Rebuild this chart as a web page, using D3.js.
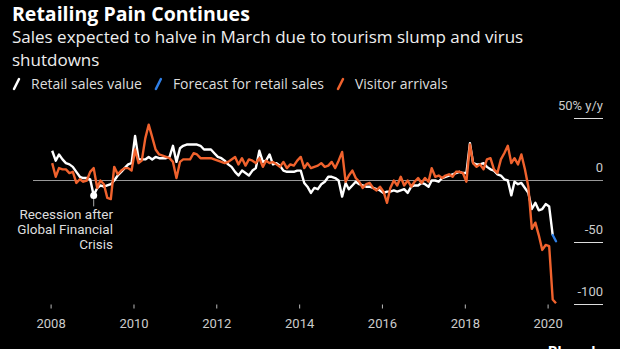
<!DOCTYPE html>
<html>
<head>
<meta charset="utf-8">
<script src="https://cdn.jsdelivr.net/npm/d3@7"></script>
<style>
body { margin: 0; background: #000; }
svg { display: block; font-family: Roboto, "Open Sans", sans-serif; }
.head { font-family: "Open Sans", Roboto, sans-serif; }
</style>
</head>
<body>
<div id="chart"></div>
<script>
// monthly series, first value is Jan 2008
var startMonth = new Date(2008, 0, 15);

// retail sales value, % y/y (Jan 2008 - Feb 2020)
var retailSales = [
    24, 16, 21, 17, 14, 13, 11, 7, 3, 2, 2, 1,
    -12, -6, -4, -5, -4, -3, 0, 4, 7, 10, 13, 14,
    36, 17, 17, 17, 19, 17, 19, 18, 18, 18, 19, 28,
    15, 26, 28, 29, 29, 29, 29, 28, 25, 25, 25, 22,
    19, 18, 16, 13, 11, 7, 4, 8, 6, 4, 8, 10,
    24, 15, 16, 21, 13, 14, 12, 8, 7, 7, 7, 8,
    8, -2, -5, -10, -6, -7, -3, -1, 3, 3, 2, 0,
    -13, -2, -7, -4, -1, -3, -4, -5, -5, -6, -7, -8,
    -10, -9, -9, -8, -9, -8, -7, -10, -5, -4, -4, -2,
    -3, -5, 0, 0, -1, 2, 3, 4, 5, 6, 7, 6,
    6, 30, 14, 13, 13, 14, 11, 9, 8, 5, 4, 1,
    0, -12, -1, -3, -2, -6, -10, -23, -18, -24, -23, -19,
    -21, -44
];

// forecast for retail sales: Feb 2020 (last actual) to Mar 2020
var forecastRetail = [-44, -49];

// visitor arrivals, % y/y (Jan 2008 - Mar 2020)
var visitorArrivals = [
    14, 3, 10, 9, 9, 6, 7, -2, 1, -1, 0, 7,
    10, -6, 0, -3, -14, -15, 11, 5, 8, 10, 10, 8,
    25, 14, 16, 34, 45, 35, 25, 21, 20, 19, 18, 15,
    2, 15, 17, 17, 17, 22, 21, 18, 18, 18, 18, 17,
    16, 15, 14, 15, 17, 19, 13, 18, 12, 17, 16, 14,
    18, 11, 16, 14, 15, 13, 11, 15, 10, 13, 12, 16,
    19, 10, 14, 10, 11, 12, 14, 11, 12, 15, 10, 16,
    23, -1, 4, 8, 2, -1, -6, -3, -2, -6, -8, -5,
    -9, -18, -6, 0, -4, 3, -4, 0, -5, -1, 2, -2,
    2, -1, 10, 3, 4, 2, 4, 5, 3, 7, 7, 6,
    -1, 29, 14, 11, 13, 9, 17, 18, 9, 6, 17, 22,
    28, 14, 18, 13, 21, 9, -5, -39, -34, -44, -56, -52,
    -53, -96, -99
];

var yearTicks = [2008, 2010, 2012, 2014, 2016, 2018, 2020];
var yTicks = [50, 0, -50, -100];
var yTickLabels = ["50% y/y", "0", "-50", "-100"];

var legendItems = [
    { label: "Retail sales value", color: "#ffffff" },
    { label: "Forecast for retail sales", color: "#2f7fe6" },
    { label: "Visitor arrivals", color: "#f0622d" }
];

var width = 620, height = 349;

var svg = d3.select("#chart")
    .append("svg")
    .attr("width", width)
    .attr("height", height);

function monthDate(i) { return d3.timeMonth.offset(startMonth, i); }

var x = d3.scaleTime()
    .domain([new Date(2008, 0, 1), new Date(2020, 0, 1)])
    .range([50.6, 547.6]);

var y = d3.scaleLinear()
    .domain([-100, 50])
    .range([304.5, 118.5]);

// titles
svg.append("text")
    .attr("class", "head")
    .attr("x", 12).attr("y", 21)
    .attr("fill", "#fff")
    .attr("font-size", 19.5).attr("font-weight", "bold")
    .text("Retailing Pain Continues");

svg.append("text")
    .attr("class", "head")
    .attr("x", 12).attr("y", 43)
    .attr("fill", "#eee")
    .attr("font-size", 17)
    .text("Sales expected to halve in March due to tourism slump and virus");

svg.append("text")
    .attr("class", "head")
    .attr("x", 12).attr("y", 66)
    .attr("fill", "#eee")
    .attr("font-size", 17)
    .text("shutdowns");

// legend
var lx = 14;
legendItems.forEach(function (d) {
    var g = svg.append("g").attr("transform", "translate(" + lx + ",84)");
    g.append("line")
        .attr("x1", 0).attr("y1", 5)
        .attr("x2", 5).attr("y2", -5)
        .attr("stroke", d.color)
        .attr("stroke-width", 2.5)
        .attr("stroke-linecap", "round");
    var t = g.append("text")
        .attr("class", "head")
        .attr("x", 17).attr("y", 5)
        .attr("fill", "#ddd")
        .attr("font-size", 14)
        .text(d.label);
    lx += 17 + t.node().getComputedTextLength() + 14;
});

// zero line
svg.append("line")
    .attr("x1", 33).attr("x2", 603)
    .attr("y1", y(0)).attr("y2", y(0))
    .attr("stroke", "#999")
    .attr("stroke-width", 1);

// right side y ticks
yTicks.forEach(function (v, i) {
    if (v !== 0) {
        svg.append("line")
            .attr("x1", 574).attr("x2", 603)
            .attr("y1", y(v)).attr("y2", y(v))
            .attr("stroke", "#ddd")
            .attr("stroke-width", 1);
    }
    svg.append("text")
        .attr("x", 603).attr("y", y(v) - 8.5)
        .attr("text-anchor", "end")
        .attr("fill", "#ccc")
        .attr("font-size", 13)
        .text(yTickLabels[i]);
});

// x axis
var xAxis = d3.axisBottom(x)
    .tickValues(yearTicks.map(function (yr) { return new Date(yr, 0, 1); }))
    .tickFormat(d3.timeFormat("%Y"))
    .tickSize(4)
    .tickPadding(10);

var gx = svg.append("g")
    .attr("transform", "translate(0,304.5)")
    .call(xAxis);
gx.select(".domain").remove();
gx.selectAll("line").attr("stroke", "#bbb");
gx.selectAll("text")
    .attr("fill", "#ccc")
    .attr("font-size", 13)
    .attr("font-family", "Roboto, sans-serif");

// lines
var line = d3.line()
    .x(function (d) { return x(d.date); })
    .y(function (d) { return y(d.value); });

var retailData = retailSales.map(function (v, i) { return { date: monthDate(i), value: v }; });
var visitorData = visitorArrivals.map(function (v, i) { return { date: monthDate(i), value: v }; });
var forecastData = forecastRetail.map(function (v, i) {
    return { date: monthDate(retailSales.length - 1 + i), value: v };
});

svg.append("path")
    .datum(retailData)
    .attr("fill", "none")
    .attr("stroke", "#fff")
    .attr("stroke-width", 2.4)
    .attr("stroke-linejoin", "round")
    .attr("d", line);

svg.append("path")
    .datum(forecastData)
    .attr("fill", "none")
    .attr("stroke", "#2f7fe6")
    .attr("stroke-width", 2.4)
    .attr("stroke-linecap", "round")
    .attr("d", line);

svg.append("path")
    .datum(visitorData)
    .attr("fill", "none")
    .attr("stroke", "#f0622d")
    .attr("stroke-width", 2.4)
    .attr("stroke-linejoin", "round")
    .attr("d", line);

// annotation: recession after GFC (Jan 2009 retail low)
var rec = retailData[12];
svg.append("line")
    .attr("x1", x(rec.date)).attr("x2", x(rec.date))
    .attr("y1", y(rec.value)).attr("y2", y(rec.value) + 11)
    .attr("stroke", "#aaa")
    .attr("stroke-width", 1);

svg.append("circle")
    .attr("cx", x(rec.date)).attr("cy", y(rec.value))
    .attr("r", 3.5)
    .attr("fill", "#fff");

var noteLines = ["Recession after", "Global Financial", "Crisis"];
svg.append("text")
    .attr("text-anchor", "end")
    .attr("fill", "#ddd")
    .attr("font-size", 13.5)
    .selectAll("tspan")
    .data(noteLines)
    .enter()
    .append("tspan")
    .attr("x", 113)
    .attr("y", function (d, i) { return 219 + i * 15; })
    .text(function (d) { return d; });

// source logo, cut at the bottom edge
svg.append("text")
    .attr("x", 548).attr("y", 357)
    .attr("fill", "#fff")
    .attr("font-size", 15).attr("font-weight", "bold")
    .text("Bloomberg");
</script>
</body>
</html>
